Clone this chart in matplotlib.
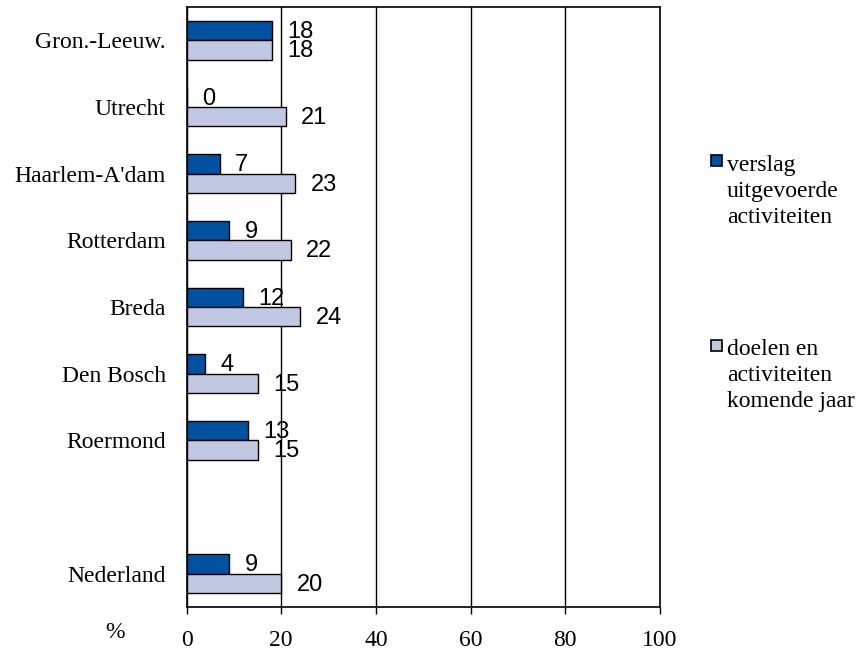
import matplotlib
matplotlib.use("Agg")
import matplotlib.pyplot as plt
from matplotlib.patches import Rectangle

regios = ["Gron.-Leeuw.", "Utrecht", "Haarlem-A'dam", "Rotterdam", "Breda",
          "Den Bosch", "Roermond", "Nederland"]
verslag = [18, 0, 7, 9, 12, 4, 13, 9]
doelen = [18, 21, 23, 22, 24, 15, 15, 20]
posities = [0, 1, 2, 3, 4, 5, 6, 8]   # lege regel tussen Roermond en Nederland
xticks = [0, 20, 40, 60, 80, 100]

donker = "#0052A0"
licht = "#C0C8E2"
serif = "Liberation Serif"
sans = "Liberation Sans"

fig = plt.figure(figsize=(8.61, 6.52), dpi=100)
ax = fig.add_axes([186.5 / 861, 1 - 607 / 652, 473.5 / 861, 600 / 652])

h = 0.29
y_d = [p - h / 2 for p in posities]
y_l = [p + h / 2 for p in posities]
ax.barh(y_d, verslag, height=h, color=donker, edgecolor="black", linewidth=1, zorder=3)
ax.barh(y_l, doelen, height=h, color=licht, edgecolor="black", linewidth=1, zorder=3)

for y, v in zip(y_d, verslag):
    ax.annotate(str(v), (v, y), xytext=(11, -1), textcoords="offset points",
                ha="left", va="center", fontsize=17, family=sans, zorder=4)
for y, v in zip(y_l, doelen):
    ax.annotate(str(v), (v, y), xytext=(11, -1), textcoords="offset points",
                ha="left", va="center", fontsize=17, family=sans, zorder=4)

ax.set_xlim(0, 100)
ax.set_ylim(8.5, -0.5)
ax.set_xticks(xticks)
ax.set_xticklabels([str(t) for t in xticks], fontsize=17, family=serif)
ax.set_yticks(posities)
ax.set_yticklabels(regios, fontsize=17, family=serif)
ax.tick_params(axis="y", length=0, pad=15)
ax.tick_params(axis="x", direction="out", length=5, width=1, pad=11.5, colors="black")
ax.grid(axis="x", color="black", linewidth=1, zorder=1)
for s in ax.spines.values():
    s.set_linewidth(1.2)
    s.set_color("black")

fig.text(115 / 861, 1 - 632 / 652, "%", fontsize=17, family=serif, ha="center", va="center")

# legenda
fig.patches.append(Rectangle((711 / 861, 1 - 166 / 652), 11 / 861, 11 / 652,
                             transform=fig.transFigure, facecolor=donker,
                             edgecolor="black", linewidth=1.2))
fig.text(727 / 861, 1 - 155 / 652, "verslag\nuitgevoerde\nactiviteiten",
         fontsize=17, family=serif, ha="left", va="top", linespacing=1.31)
fig.patches.append(Rectangle((711 / 861, 1 - 351 / 652), 11 / 861, 11 / 652,
                             transform=fig.transFigure, facecolor=licht,
                             edgecolor="black", linewidth=1.2))
fig.text(727 / 861, 1 - 339 / 652, "doelen en\nactiviteiten\nkomende jaar",
         fontsize=17, family=serif, ha="left", va="top", linespacing=1.31)

fig.savefig("out.png", dpi=100)
